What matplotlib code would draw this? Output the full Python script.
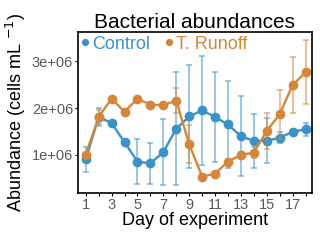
import numpy as np
import matplotlib
matplotlib.use("Agg")
import matplotlib.pyplot as plt

plt.rcParams['font.family'] = ['Liberation Sans', 'DejaVu Sans']

days = np.arange(1, 19)

control_mean = [0.91, 1.81, 1.68, 1.27, 0.86, 0.82, 1.06, 1.56, 1.82,
                1.95, 1.81, 1.65, 1.40, 1.30, 1.30, 1.37, 1.49, 1.55]
control_sd = [0.27, 0.20, 0.03, 0.05, 0.47, 0.44, 0.71, 1.20, 1.10,
              1.16, 0.95, 0.93, 0.85, 0.58, 0.48, 0.12, 0.05, 0.14]

runoff_mean = [1.01, 1.81, 2.20, 1.92, 2.20, 2.07, 2.06, 2.16, 1.23,
               0.54, 0.60, 0.86, 1.00, 1.05, 1.51, 1.87, 2.49, 2.76]
runoff_sd = [0.05, 0.15, 0.04, 0.05, 0.04, 0.06, 0.03, 0.26, 0.41,
             0.03, 0.03, 0.05, 0.06, 0.12, 0.38, 0.52, 0.59, 0.68]

series_names = ['Control', 'T. Runoff']
blue = '#3a93c8'
orange = '#d4873a'

fig = plt.figure(figsize=(3.2, 2.4), dpi=100)
ax = fig.add_axes([78 / 320, 1 - 193 / 240, 234 / 320, 161 / 240])

for mean, sd, col, name in [(control_mean, control_sd, blue, series_names[0]),
                            (runoff_mean, runoff_sd, orange, series_names[1])]:
    m = np.array(mean) * 1e6
    s = np.array(sd) * 1e6
    ax.errorbar(days, m, yerr=s, fmt='none', ecolor=col, alpha=0.6,
                elinewidth=1.2, capsize=2.5, capthick=1.2)
    ax.plot(days, m, '-o', color=col, lw=1.7, ms=6, label=name)

ax.set_xlim(0.4, 18.5)
ax.set_ylim(0.19e6, 3.62e6)
ax.set_xticks(days)
ax.set_xticklabels([str(d) if d % 2 == 1 else '' for d in days])
ax.set_yticks([1e6, 2e6, 3e6])
ax.set_yticklabels(['1e+06', '2e+06', '3e+06'])
ax.tick_params(labelsize=10.5, labelcolor='#595959', length=2, width=0.8,
               pad=1.5)
for sp in ax.spines.values():
    sp.set_linewidth(1.2)

ax.set_title('Bacterial abundances', fontsize=15, pad=3)
ax.set_xlabel('Day of experiment', fontsize=13, labelpad=0)
ax.set_ylabel('Abundance (cells mL $^{-1}$)', fontsize=13, labelpad=3)

leg = ax.legend(loc='upper left', ncol=2, frameon=False, fontsize=13,
                handlelength=0.4, handletextpad=0.2, columnspacing=0.8,
                borderaxespad=0.1, borderpad=0.1, markerscale=0.7)
for h in leg.legend_handles:
    h.set_linestyle('none')
for t, col in zip(leg.get_texts(), [blue, orange]):
    t.set_color(col)

fig.savefig('out.png', dpi=100)
